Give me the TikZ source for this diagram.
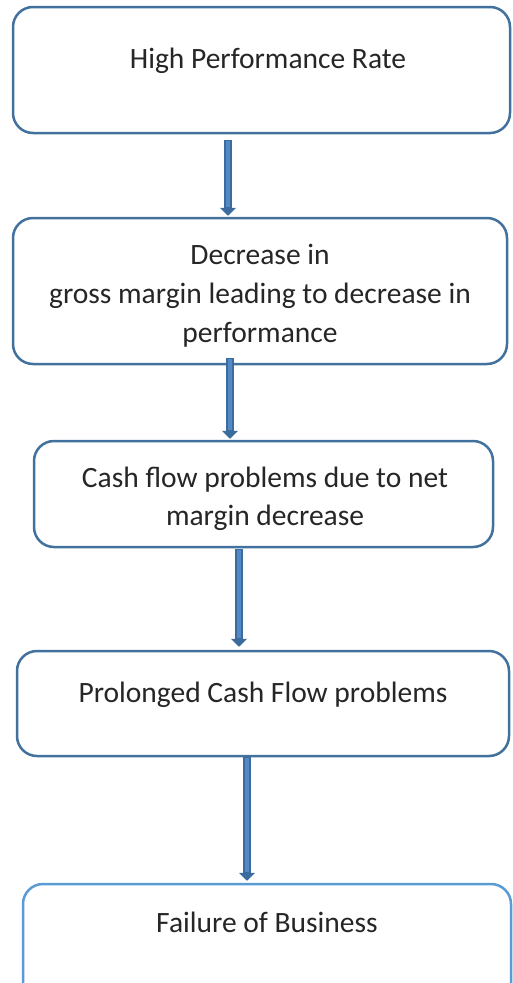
\documentclass[tikz,border=0pt]{standalone}
\usepackage{fontspec}
\setmainfont{Carlito}
\usetikzlibrary{arrows.meta}
\definecolor{boxblue}{HTML}{41719C}
\definecolor{boxlight}{HTML}{5B9BD5}
\definecolor{arrdark}{HTML}{3C6B9E}
\definecolor{arrfill}{HTML}{5289C6}
\definecolor{txt}{HTML}{262626}
\tikzset{
  box/.style={draw=boxblue, line width=2.5pt, rounded corners=20pt, fill=white, inner sep=0pt},
  lightbox/.style={box, draw=boxlight},
  txtline/.style={anchor=base, inner sep=0pt, text=txt, font=\fontsize{29.5}{36}\selectfont},
  arrout/.style={draw=arrdark, line width=8.5pt, -{Triangle[width=16pt,length=8pt]}},
  arrin/.style={draw=arrfill, line width=3.5pt}
}
\begin{document}
\begin{tikzpicture}[x=1pt,y=-1pt]
\useasboundingbox (0,0) rectangle (513,983);
\clip (0,0) rectangle (513,983);
% boxes
\node[box, minimum width=497pt, minimum height=126pt] (b1) at (261.5,70) {};
\node[box, minimum width=494pt, minimum height=146pt] (b2) at (260,291) {};
\node[box, minimum width=459pt, minimum height=106pt] (b3) at (263.5,494) {};
\node[box, minimum width=492pt, minimum height=105pt] (b4) at (263,703.5) {};
\node[lightbox, minimum width=488pt, minimum height=126pt] (b5) at (267,947) {};
% texts
\node[txtline] (t1) at (268,68) {High Performance Rate};
\node[txtline] (t2a) at (260,264) {Decrease in};
\node[txtline] (t2b) at (260,303) {gross margin leading to decrease in};
\node[txtline] (t2c) at (260,342) {performance};
\node[txtline] (t3a) at (265,487) {Cash flow problems due to net};
\node[txtline] (t3b) at (265,525) {margin decrease};
\node[txtline] (t4) at (263,702) {Prolonged Cash Flow problems};
\node[txtline] (t5) at (267,932) {Failure of Business};
% arrow anchor points
\coordinate (x1) at (228,0);
\coordinate (x2) at (230,0);
\coordinate (x3) at (239,0);
\coordinate (x4) at (247,0);
% arrows
\draw[arrout] ([yshift=-6pt]b1.south -| x1) -- ([yshift=1pt]b2.north -| x1);
\draw[arrin] ([yshift=-7pt]b1.south -| x1) -- ([yshift=10pt]b2.north -| x1);
\draw[arrout] ([yshift=7pt]b2.south -| x2) -- ([yshift=1pt]b3.north -| x2);
\draw[arrin] ([yshift=6pt]b2.south -| x2) -- ([yshift=10pt]b3.north -| x2);
\draw[arrout] ([yshift=-1pt]b3.south -| x3) -- ([yshift=3pt]b4.north -| x3);
\draw[arrin] ([yshift=-2pt]b3.south -| x3) -- ([yshift=12pt]b4.north -| x3);
\draw[arrout] (b4.south -| x4) -- ([yshift=2pt]b5.north -| x4);
\draw[arrin] ([yshift=-1pt]b4.south -| x4) -- ([yshift=11pt]b5.north -| x4);
\end{tikzpicture}
\end{document}
